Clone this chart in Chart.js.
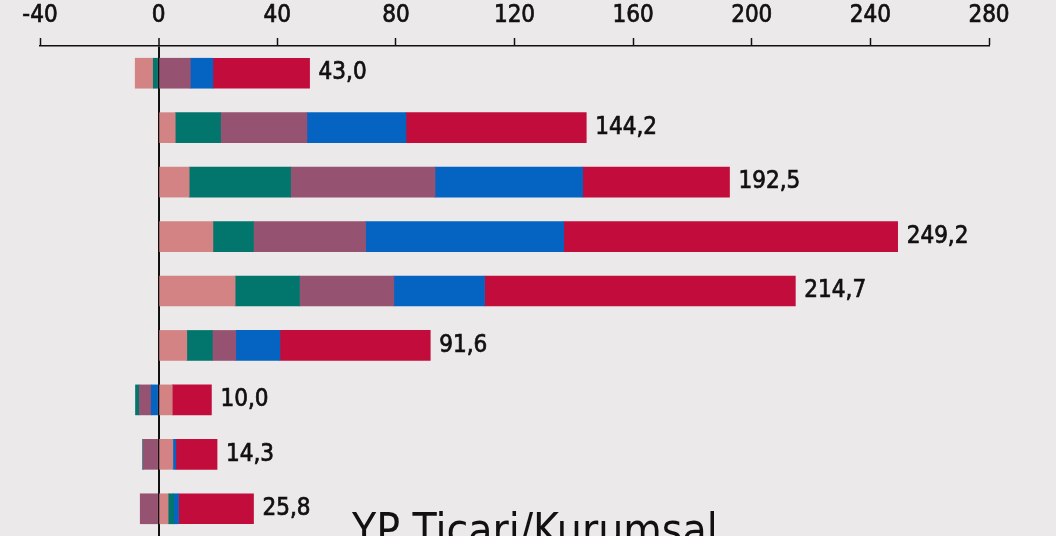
<!DOCTYPE html>
<html>
<head>
<meta charset="utf-8">
<script src="https://cdn.jsdelivr.net/npm/chart.js@4/dist/chart.umd.min.js"></script>
<style>
  html, body { margin: 0; padding: 0; background: #ebe9ea; overflow: hidden; }
  #wrap { width: 1056px; height: 536px; position: relative; }
</style>
</head>
<body>
<div id="wrap"><canvas id="chart"></canvas></div>
<script>
// categories (no labels shown on the original crop)
const categories = ['1', '2', '3', '4', '5', '6', '7', '8', '9'];

// series values
const salmonVals  = [-6.1, 5.6, 10.3, 18.3, 25.8, 9.5, 4.6, 4.8, 3.2];
const tealVals    = [-1.8, 15.3, 34.2, 13.7, 21.7, 8.6, -1.3, -0.2, 1.9];
const purpleVals  = [10.7, 29.1, 48.7, 37.8, 31.8, 7.9, -4.0, -5.2, -6.2];
const blueVals    = [7.6, 33.4, 49.8, 66.8, 30.6, 14.9, -2.5, 1.0, 1.6];
const crimsonVals = [32.6, 60.8, 49.5, 112.6, 104.8, 50.7, 13.2, 13.9, 25.3];

// x axis ticks
const xMin = -40;
const xMax = 280;
const xStep = 40;

const series = [salmonVals, tealVals, purpleVals, blueVals, crimsonVals];
const colors = ['#d38383', '#02766d', '#955271', '#0564c2', '#c20d3c'];

const numFont = "'DejaVu Sans Condensed', 'Liberation Sans Narrow', Roboto, sans-serif";

// positives stack left to right in series order, negatives stack outward in reverse order
const datasets = [];
series.forEach((s, i) => {
  datasets.push({
    data: s.map(v => v > 0 ? v : null),
    backgroundColor: colors[i],
    barThickness: 30
  });
});
for (let i = series.length - 1; i >= 0; i--) {
  datasets.push({
    data: series[i].map(v => v < 0 ? v : null),
    backgroundColor: colors[i],
    barThickness: 30
  });
}

// total labels at the end of each bar, plus the cut-off heading below
const totalsPlugin = {
  id: 'totals',
  afterDatasetsDraw(chart) {
    const ctx = chart.ctx;
    const x = chart.scales.x, y = chart.scales.y;
    ctx.save();
    ctx.font = '24px ' + numFont;
    ctx.fillStyle = '#111';
    ctx.strokeStyle = '#111';
    ctx.lineWidth = 0.7;
    ctx.textBaseline = 'middle';
    categories.forEach((c, i) => {
      let total = 0, pos = 0;
      series.forEach(s => {
        total += s[i];
        if (s[i] > 0) pos += s[i];
      });
      const txt = total.toFixed(1).replace('.', ',');
      const tx = x.getPixelForValue(pos) + 9, ty = y.getPixelForValue(i);
      ctx.fillText(txt, tx, ty);
      ctx.strokeText(txt, tx, ty);
    });
    ctx.restore();
  },
  afterDraw(chart) {
    const ctx = chart.ctx;
    ctx.save();
    ctx.font = '44px ' + numFont;
    ctx.fillStyle = '#111';
    ctx.textBaseline = 'alphabetic';
    ctx.fillText('YP Ticari/Kurumsal', 352, 545);
    ctx.restore();
  }
};

new Chart(document.getElementById('chart'), {
  type: 'bar',
  data: { labels: categories, datasets: datasets },
  options: {
    indexAxis: 'y',
    responsive: true,
    maintainAspectRatio: false,
    animation: false,
    layout: { padding: { left: 40, right: 67, top: -6, bottom: 0 } },
    plugins: { legend: { display: false }, tooltip: { enabled: false } },
    scales: {
      x: {
        position: 'top',
        stacked: true,
        min: xMin,
        max: xMax,
        z: 1,
        ticks: {
          stepSize: xStep,
          color: '#111',
          padding: 10,
          textStrokeColor: '#111',
          textStrokeWidth: 0.7,
          font: { size: 24, family: numFont, lineHeight: 1 }
        },
        grid: {
          color: c => c.tick && c.tick.value === 0 ? '#111' : 'rgba(0,0,0,0)',
          lineWidth: c => c.tick && c.tick.value === 0 ? 2 : 1,
          tickColor: '#111',
          tickLength: 8,
          tickWidth: 1.5
        },
        border: { color: '#111', width: 1.5 }
      },
      y: {
        stacked: true,
        display: false
      }
    }
  },
  plugins: [totalsPlugin]
});
</script>
</body>
</html>
